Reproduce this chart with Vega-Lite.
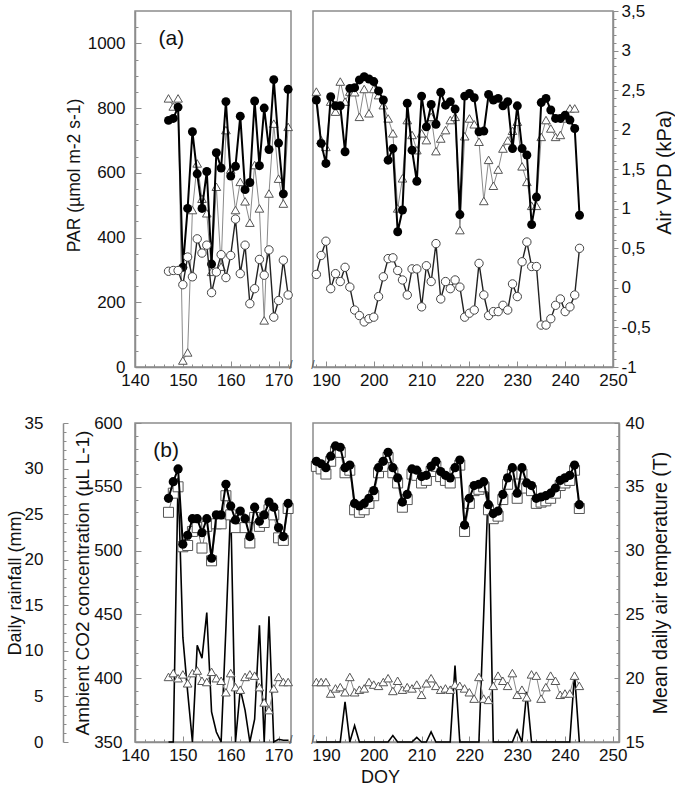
{
"$schema": "https://vega.github.io/schema/vega-lite/v6.json",
"padding": {"top": 1, "left": 5, "right": 0, "bottom": 5},
"config": {
  "font": "Liberation Sans",
  "view": {"stroke": "#8c8c8c", "strokeWidth": 1.5},
  "axis": {"grid": false, "domainColor": "#8c8c8c", "domainWidth": 1.5, "tickColor": "#8c8c8c", "tickWidth": 1, "labelFont": "Liberation Sans", "labelFontSize": 17, "labelColor": "#111", "titleFont": "Liberation Sans", "titleFontWeight": "normal", "titleColor": "#111", "labelFlush": false, "labelOverlap": false}
},
"datasets": {
  "a": [
    {"doy":147,"par":762,"par2":830,"vpd":0.21},
    {"doy":148,"par":768,"par2":805,"vpd":0.22},
    {"doy":149,"par":803,"par2":830,"vpd":0.22},
    {"doy":150,"par":308,"par2":20,"vpd":0.04},
    {"doy":151,"par":490,"par2":45,"vpd":0.39},
    {"doy":152,"par":727,"par2":485,"vpd":0.14},
    {"doy":153,"par":597,"par2":629,"vpd":0.62},
    {"doy":154,"par":490,"par2":520,"vpd":0.44},
    {"doy":155,"par":604,"par2":475,"vpd":0.54},
    {"doy":156,"par":318,"par2":294,"vpd":-0.06},
    {"doy":157,"par":662,"par2":557,"vpd":0.2},
    {"doy":158,"par":615,"par2":310,"vpd":0.42},
    {"doy":159,"par":820,"par2":732,"vpd":0.13},
    {"doy":160,"par":590,"par2":610,"vpd":0.41},
    {"doy":161,"par":620,"par2":485,"vpd":0.87},
    {"doy":162,"par":775,"par2":572,"vpd":0.18},
    {"doy":163,"par":548,"par2":512,"vpd":0.54},
    {"doy":164,"par":570,"par2":446,"vpd":-0.2},
    {"doy":165,"par":822,"par2":624,"vpd":-0.01},
    {"doy":166,"par":622,"par2":490,"vpd":0.36},
    {"doy":167,"par":800,"par2":144,"vpd":0.16},
    {"doy":168,"par":672,"par2":536,"vpd":0.48},
    {"doy":169,"par":888,"par2":752,"vpd":-0.37},
    {"doy":170,"par":692,"par2":582,"vpd":-0.16},
    {"doy":171,"par":535,"par2":505,"vpd":0.35},
    {"doy":172,"par":858,"par2":742,"vpd":-0.09},
    {"doy":188,"par":825,"par2":851,"vpd":0.17},
    {"doy":189,"par":691,"par2":701,"vpd":0.41},
    {"doy":190,"par":629,"par2":680,"vpd":0.59},
    {"doy":191,"par":835,"par2":820,"vpd":-0.01},
    {"doy":192,"par":807,"par2":789,"vpd":0.18},
    {"doy":193,"par":807,"par2":882,"vpd":0.08},
    {"doy":194,"par":665,"par2":820,"vpd":0.26},
    {"doy":195,"par":861,"par2":851,"vpd":0.01},
    {"doy":196,"par":863,"par2":849,"vpd":-0.28},
    {"doy":197,"par":887,"par2":773,"vpd":-0.35},
    {"doy":198,"par":897,"par2":859,"vpd":-0.43},
    {"doy":199,"par":890,"par2":784,"vpd":-0.39},
    {"doy":200,"par":882,"par2":859,"vpd":-0.37},
    {"doy":201,"par":853,"par2":840,"vpd":-0.11},
    {"doy":202,"par":825,"par2":809,"vpd":0.14},
    {"doy":203,"par":639,"par2":768,"vpd":0.37},
    {"doy":204,"par":675,"par2":722,"vpd":0.38},
    {"doy":205,"par":418,"par2":490,"vpd":0.22},
    {"doy":206,"par":485,"par2":583,"vpd":0.1},
    {"doy":207,"par":815,"par2":763,"vpd":-0.09},
    {"doy":208,"par":670,"par2":717,"vpd":0.24},
    {"doy":209,"par":574,"par2":670,"vpd":0.24},
    {"doy":210,"par":837,"par2":722,"vpd":-0.24},
    {"doy":211,"par":742,"par2":701,"vpd":0.28},
    {"doy":212,"par":811,"par2":773,"vpd":0.08},
    {"doy":213,"par":750,"par2":667,"vpd":0.56},
    {"doy":214,"par":849,"par2":706,"vpd":-0.14},
    {"doy":215,"par":809,"par2":732,"vpd":0.08},
    {"doy":216,"par":820,"par2":763,"vpd":-0.01},
    {"doy":217,"par":797,"par2":773,"vpd":0.1},
    {"doy":218,"par":471,"par2":423,"vpd":0.01},
    {"doy":219,"par":837,"par2":713,"vpd":-0.37},
    {"doy":220,"par":845,"par2":768,"vpd":-0.32},
    {"doy":221,"par":832,"par2":750,"vpd":-0.28},
    {"doy":222,"par":727,"par2":696,"vpd":0.31},
    {"doy":223,"par":729,"par2":513,"vpd":-0.09},
    {"doy":224,"par":842,"par2":640,"vpd":-0.35},
    {"doy":225,"par":825,"par2":560,"vpd":-0.3},
    {"doy":226,"par":830,"par2":610,"vpd":-0.3},
    {"doy":227,"par":807,"par2":675,"vpd":-0.22},
    {"doy":228,"par":820,"par2":700,"vpd":-0.28},
    {"doy":229,"par":675,"par2":730,"vpd":0.05},
    {"doy":230,"par":807,"par2":758,"vpd":-0.11},
    {"doy":231,"par":675,"par2":620,"vpd":0.33},
    {"doy":232,"par":655,"par2":572,"vpd":0.58},
    {"doy":233,"par":440,"par2":498,"vpd":0.27},
    {"doy":234,"par":525,"par2":498,"vpd":0.27},
    {"doy":235,"par":817,"par2":711,"vpd":-0.47},
    {"doy":236,"par":830,"par2":763,"vpd":-0.47},
    {"doy":237,"par":794,"par2":737,"vpd":-0.39},
    {"doy":238,"par":768,"par2":711,"vpd":-0.22},
    {"doy":239,"par":768,"par2":717,"vpd":-0.14},
    {"doy":240,"par":778,"par2":768,"vpd":-0.3},
    {"doy":241,"par":763,"par2":799,"vpd":-0.24},
    {"doy":242,"par":737,"par2":799,"vpd":-0.09},
    {"doy":243,"par":469,"vpd":0.5}
  ],
  "b": [
    {"doy":147,"t1":34.1,"t2":33.0,"co2":401,"rain":0},
    {"doy":148,"t1":35.4,"t2":34.5,"co2":404,"rain":0},
    {"doy":149,"t1":36.4,"t2":35.0,"co2":400,"rain":29},
    {"doy":150,"t1":30.5,"t2":30.3,"co2":403,"rain":11.5},
    {"doy":151,"t1":31.2,"t2":30.4,"co2":396,"rain":5.5},
    {"doy":152,"t1":32.5,"t2":31.5,"co2":404,"rain":0},
    {"doy":153,"t1":32.5,"t2":31.8,"co2":406,"rain":10.6},
    {"doy":154,"t1":31.4,"t2":30.2,"co2":398,"rain":9.2},
    {"doy":155,"t1":32.5,"t2":31.9,"co2":397,"rain":14.2},
    {"doy":156,"t1":29.4,"t2":29.2,"co2":405,"rain":3.3},
    {"doy":157,"t1":32.8,"t2":32.1,"co2":400,"rain":1.1},
    {"doy":158,"t1":32.8,"t2":32.1,"co2":398,"rain":0},
    {"doy":159,"t1":35.2,"t2":34.3,"co2":389,"rain":12.5},
    {"doy":160,"t1":33.5,"t2":32.8,"co2":404,"rain":26},
    {"doy":161,"t1":32.4,"t2":31.8,"co2":393,"rain":0},
    {"doy":162,"t1":33.1,"t2":32.5,"co2":391,"rain":5.8},
    {"doy":163,"t1":32.5,"t2":31.8,"co2":401,"rain":3.5},
    {"doy":164,"t1":31.1,"t2":30.6,"co2":403,"rain":0},
    {"doy":165,"t1":33.4,"t2":32.6,"co2":402,"rain":2.5},
    {"doy":166,"t1":32.3,"t2":31.9,"co2":393,"rain":12.8},
    {"doy":167,"t1":32.8,"t2":32.2,"co2":381,"rain":0},
    {"doy":168,"t1":33.8,"t2":33.2,"co2":375,"rain":13.8},
    {"doy":169,"t1":33.4,"t2":32.8,"co2":392,"rain":0},
    {"doy":170,"t1":31.8,"t2":31.0,"co2":401,"rain":0.3},
    {"doy":171,"t1":31.1,"t2":30.8,"co2":397,"rain":0.2},
    {"doy":172,"t1":33.7,"t2":33.3,"co2":397,"rain":0.2},
    {"doy":188,"t1":37.0,"t2":36.6,"co2":397,"rain":0},
    {"doy":189,"t1":36.8,"t2":36.4,"co2":397,"rain":0},
    {"doy":190,"t1":36.5,"t2":36.0,"co2":397,"rain":0},
    {"doy":191,"t1":37.4,"t2":37.0,"co2":388,"rain":0},
    {"doy":192,"t1":38.2,"t2":37.8,"co2":392,"rain":0},
    {"doy":193,"t1":38.1,"t2":37.7,"co2":393,"rain":0},
    {"doy":194,"t1":36.5,"t2":36.1,"co2":389,"rain":4.4},
    {"doy":195,"t1":36.7,"t2":36.3,"co2":401,"rain":0},
    {"doy":196,"t1":33.7,"t2":33.2,"co2":389,"rain":1.8},
    {"doy":197,"t1":33.5,"t2":33.0,"co2":391,"rain":0},
    {"doy":198,"t1":33.7,"t2":33.2,"co2":392,"rain":0},
    {"doy":199,"t1":34.1,"t2":33.7,"co2":397,"rain":0},
    {"doy":200,"t1":34.7,"t2":34.3,"co2":395,"rain":0},
    {"doy":201,"t1":36.5,"t2":36.1,"co2":394,"rain":0},
    {"doy":202,"t1":37.0,"t2":36.6,"co2":397,"rain":0},
    {"doy":203,"t1":37.7,"t2":37.3,"co2":400,"rain":0},
    {"doy":204,"t1":36.5,"t2":36.1,"co2":390,"rain":0.7},
    {"doy":205,"t1":35.7,"t2":35.3,"co2":398,"rain":0},
    {"doy":206,"t1":33.8,"t2":33.4,"co2":391,"rain":0},
    {"doy":207,"t1":34.4,"t2":34.0,"co2":393,"rain":0},
    {"doy":208,"t1":36.4,"t2":36.0,"co2":392,"rain":0},
    {"doy":209,"t1":36.3,"t2":35.9,"co2":395,"rain":0.5},
    {"doy":210,"t1":35.8,"t2":35.3,"co2":387,"rain":0},
    {"doy":211,"t1":35.9,"t2":35.5,"co2":396,"rain":0},
    {"doy":212,"t1":36.6,"t2":36.2,"co2":400,"rain":1.1},
    {"doy":213,"t1":37.0,"t2":36.6,"co2":394,"rain":0},
    {"doy":214,"t1":36.2,"t2":35.8,"co2":391,"rain":0},
    {"doy":215,"t1":35.9,"t2":35.5,"co2":392,"rain":0},
    {"doy":216,"t1":35.7,"t2":35.3,"co2":391,"rain":0},
    {"doy":217,"t1":36.5,"t2":36.1,"co2":395,"rain":8.4},
    {"doy":218,"t1":37.1,"t2":36.7,"co2":394,"rain":0},
    {"doy":219,"t1":32.0,"t2":31.5,"co2":392,"rain":0},
    {"doy":220,"t1":34.1,"t2":33.7,"co2":389,"rain":0},
    {"doy":221,"t1":35.1,"t2":34.7,"co2":384,"rain":0},
    {"doy":222,"t1":35.2,"t2":34.8,"co2":401,"rain":0},
    {"doy":223,"t1":35.4,"t2":35.0,"co2":384,"rain":14},
    {"doy":224,"t1":33.6,"t2":33.2,"co2":383,"rain":28.5},
    {"doy":225,"t1":32.9,"t2":32.5,"co2":394,"rain":0},
    {"doy":226,"t1":33.1,"t2":32.7,"co2":402,"rain":0},
    {"doy":227,"t1":34.4,"t2":34.0,"co2":398,"rain":0},
    {"doy":228,"t1":35.7,"t2":35.2,"co2":394,"rain":0},
    {"doy":229,"t1":36.5,"t2":36.0,"co2":404,"rain":0},
    {"doy":230,"t1":34.5,"t2":34.1,"co2":387,"rain":1.3},
    {"doy":231,"t1":36.5,"t2":36.0,"co2":391,"rain":0},
    {"doy":232,"t1":35.3,"t2":34.9,"co2":385,"rain":5.5},
    {"doy":233,"t1":35.1,"t2":34.7,"co2":403,"rain":0},
    {"doy":234,"t1":34.1,"t2":33.7,"co2":402,"rain":0},
    {"doy":235,"t1":34.2,"t2":33.8,"co2":384,"rain":0},
    {"doy":236,"t1":34.3,"t2":33.9,"co2":393,"rain":0},
    {"doy":237,"t1":34.5,"t2":34.1,"co2":402,"rain":0},
    {"doy":238,"t1":34.9,"t2":34.5,"co2":398,"rain":0},
    {"doy":239,"t1":35.5,"t2":35.1,"co2":387,"rain":0},
    {"doy":240,"t1":35.7,"t2":35.3,"co2":388,"rain":0},
    {"doy":241,"t1":35.9,"t2":35.5,"co2":388,"rain":0},
    {"doy":242,"t1":36.7,"t2":36.3,"co2":402,"rain":7.5},
    {"doy":243,"t1":33.6,"t2":33.3,"co2":394,"rain":0}
  ]
},
"columns": 2,
"align": "each",
"spacing": {"row": 21, "column": 12},
"concat": [
  {
    "width": 156, "height": 356,
    "data": {"name": "a"},
    "transform": [{"filter": "datum.doy < 180"}],
    "encoding": {"x": {"field": "doy", "type": "quantitative", "scale": {"domain": [140, 172.6], "nice": false, "zero": false},
      "axis": {"values": [140,142,144,146,148,150,152,154,156,158,160,162,164,166,168,170,172], "format": "d", "labelExpr": "datum.value % 10 === 0 ? datum.label : ''", "tickSize": {"condition": {"test": "datum.value % 10 === 0", "value": -6}, "value": -3}, "labelPadding": 11, "title": null}}},
    "layer": [
      {"layer": [
        {"mark": {"type": "line", "color": "#8a8a8a", "strokeWidth": 1, "point": {"shape": "triangle-up", "filled": true, "fill": "white", "stroke": "#555", "strokeWidth": 1, "size": 75}},
         "encoding": {"y": {"field": "par2", "type": "quantitative", "scale": {"domain": [0, 1100], "nice": false, "zero": false},
           "axis": {"orient": "left", "values": [0,50,100,150,200,250,300,350,400,450,500,550,600,650,700,750,800,850,900,950,1000,1050], "format": "d", "labelExpr": "datum.value % 200 === 0 ? datum.label : ''", "tickSize": {"condition": {"test": "datum.value % 200 === 0", "value": -6}, "value": -3}, "labelPadding": 16, "title": "PAR (µmol m-2  s-1)", "titleFontSize": 17.5, "titlePadding": 4, "titleY": 164}}}},
        {"mark": {"type": "line", "color": "black", "strokeWidth": 2, "point": {"shape": "circle", "filled": true, "color": "black", "size": 80}},
         "encoding": {"y": {"field": "par", "type": "quantitative", "scale": {"domain": [0, 1100], "nice": false, "zero": false},
           "axis": {"orient": "left", "values": [0,50,100,150,200,250,300,350,400,450,500,550,600,650,700,750,800,850,900,950,1000,1050], "format": "d", "labelExpr": "datum.value % 200 === 0 ? datum.label : ''", "tickSize": {"condition": {"test": "datum.value % 200 === 0", "value": -6}, "value": -3}, "labelPadding": 16, "title": "PAR (µmol m-2  s-1)", "titleFontSize": 17.5, "titlePadding": 4, "titleY": 164}}}},
        {"data": {"values": [{"doy": 147.6, "v": 1015, "t": "(a)"}]},
         "mark": {"type": "text", "font": "Liberation Sans", "color": "#111", "fontSize": 21},
         "encoding": {"y": {"field": "v", "type": "quantitative", "scale": {"domain": [0, 1100], "nice": false, "zero": false},
           "axis": {"orient": "left", "values": [0,50,100,150,200,250,300,350,400,450,500,550,600,650,700,750,800,850,900,950,1000,1050], "format": "d", "labelExpr": "datum.value % 200 === 0 ? datum.label : ''", "tickSize": {"condition": {"test": "datum.value % 200 === 0", "value": -6}, "value": -3}, "labelPadding": 16, "title": "PAR (µmol m-2  s-1)", "titleFontSize": 17.5, "titlePadding": 4, "titleY": 164}},
           "text": {"field": "t"}}},
        {"data": {"values": [{"doy": 172.6, "v": 0, "t": "/"}]},
         "mark": {"type": "text", "font": "Liberation Sans", "color": "#555", "fontSize": 12, "dy": -2},
         "encoding": {"y": {"field": "v", "type": "quantitative", "scale": {"domain": [0, 1100], "nice": false, "zero": false},
           "axis": {"orient": "left", "values": [0,50,100,150,200,250,300,350,400,450,500,550,600,650,700,750,800,850,900,950,1000,1050], "format": "d", "labelExpr": "datum.value % 200 === 0 ? datum.label : ''", "tickSize": {"condition": {"test": "datum.value % 200 === 0", "value": -6}, "value": -3}, "labelPadding": 16, "title": "PAR (µmol m-2  s-1)", "titleFontSize": 17.5, "titlePadding": 4, "titleY": 164}},
           "text": {"field": "t"}}}
      ]},
      {"mark": {"type": "line", "color": "#222", "strokeWidth": 1.4, "point": {"shape": "circle", "filled": true, "fill": "white", "stroke": "#444", "strokeWidth": 1, "size": 70}},
       "encoding": {"y": {"field": "vpd", "type": "quantitative", "scale": {"domain": [-1, 3.5], "nice": false, "zero": false}, "axis": null}}}
    ],
    "resolve": {"scale": {"y": "independent"}}
  },
  {
    "width": 300, "height": 356,
    "data": {"name": "a"},
    "transform": [{"filter": "datum.doy > 180"}],
    "encoding": {"x": {"field": "doy", "type": "quantitative", "scale": {"domain": [187.3, 250], "nice": false, "zero": false},
      "axis": {"values": [188,190,192,194,196,198,200,202,204,206,208,210,212,214,216,218,220,222,224,226,228,230,232,234,236,238,240,242,244,246,248,250], "format": "d", "labelExpr": "datum.value % 10 === 0 ? datum.label : ''", "tickSize": {"condition": {"test": "datum.value % 10 === 0", "value": -6}, "value": -3}, "labelPadding": 11, "title": null}}},
    "layer": [
      {"layer": [
        {"mark": {"type": "line", "color": "#8a8a8a", "strokeWidth": 1, "point": {"shape": "triangle-up", "filled": true, "fill": "white", "stroke": "#555", "strokeWidth": 1, "size": 75}},
         "encoding": {"y": {"field": "par2", "type": "quantitative", "scale": {"domain": [0, 1100], "nice": false, "zero": false}, "axis": null}}},
        {"mark": {"type": "line", "color": "black", "strokeWidth": 2, "point": {"shape": "circle", "filled": true, "color": "black", "size": 80}},
         "encoding": {"y": {"field": "par", "type": "quantitative", "scale": {"domain": [0, 1100], "nice": false, "zero": false}, "axis": null}}},
        {"data": {"values": [{"doy": 187.3, "v": 0, "t": "/"}]},
         "mark": {"type": "text", "font": "Liberation Sans", "color": "#555", "fontSize": 12, "dy": -2},
         "encoding": {"y": {"field": "v", "type": "quantitative", "scale": {"domain": [0, 1100], "nice": false, "zero": false}, "axis": null}, "text": {"field": "t"}}}
      ]},
      {"mark": {"type": "line", "color": "#222", "strokeWidth": 1.4, "point": {"shape": "circle", "filled": true, "fill": "white", "stroke": "#444", "strokeWidth": 1, "size": 70}},
       "encoding": {"y": {"field": "vpd", "type": "quantitative", "scale": {"domain": [-1, 3.5], "nice": false, "zero": false},
         "axis": {"orient": "right", "values": [-1,-0.9,-0.8,-0.7,-0.6,-0.5,-0.4,-0.3,-0.2,-0.1,0,0.1,0.2,0.3,0.4,0.5,0.6,0.7,0.8,0.9,1,1.1,1.2,1.3,1.4,1.5,1.6,1.7,1.8,1.9,2,2.1,2.2,2.3,2.4,2.5,2.6,2.7,2.8,2.9,3,3.1,3.2,3.3,3.4,3.5], "labelExpr": "round(datum.value*10) % 5 === 0 ? replace(toString(datum.value), '.', ',') : ''", "tickSize": {"condition": {"test": "round(datum.value*10) % 5 === 0", "value": 5}, "value": 3}, "labelPadding": 3, "title": "Air VPD (kPa)", "titleAngle": 270, "titleBaseline": "top", "titleFontSize": 20, "titlePadding": 4, "titleY": 161}}}}
    ],
    "resolve": {"scale": {"y": "independent"}}
  },
  {
    "width": 156, "height": 319,
    "data": {"name": "b"},
    "transform": [{"filter": "datum.doy < 180"}],
    "encoding": {"x": {"field": "doy", "type": "quantitative", "scale": {"domain": [140, 172.6], "nice": false, "zero": false},
      "axis": {"values": [140,142,144,146,148,150,152,154,156,158,160,162,164,166,168,170,172], "format": "d", "labelExpr": "datum.value % 10 === 0 ? datum.label : ''", "tickSize": {"condition": {"test": "datum.value % 10 === 0", "value": -6}, "value": -3}, "labelPadding": 11, "title": null}}},
    "layer": [
      {"mark": {"type": "line", "color": "black", "strokeWidth": 1.6},
       "encoding": {"y": {"field": "rain", "type": "quantitative", "scale": {"domain": [0, 35], "nice": false, "zero": false},
         "axis": {"orient": "left", "offset": 72, "values": [0,1,2,3,4,5,6,7,8,9,10,11,12,13,14,15,16,17,18,19,20,21,22,23,24,25,26,27,28,29,30,31,32,33,34,35], "format": "d", "labelExpr": "datum.value % 5 === 0 ? datum.label : ''", "tickSize": {"condition": {"test": "datum.value % 5 === 0", "value": -5}, "value": -3}, "labelPadding": 25, "title": "Daily rainfall (mm)", "titleFontSize": 18, "titlePadding": 0}}}},
      {"layer": [
        {"mark": {"type": "line", "color": "#8a8a8a", "strokeWidth": 1, "point": {"shape": "triangle-up", "filled": true, "fill": "white", "stroke": "#555", "strokeWidth": 1, "size": 75}},
         "encoding": {"y": {"field": "co2", "type": "quantitative", "scale": {"domain": [350, 600], "nice": false, "zero": false},
           "axis": {"orient": "left", "values": [350,360,370,380,390,400,410,420,430,440,450,460,470,480,490,500,510,520,530,540,550,560,570,580,590,600], "format": "d", "labelExpr": "datum.value % 50 === 0 ? datum.label : ''", "tickSize": {"condition": {"test": "datum.value % 50 === 0", "value": -6}, "value": -3}, "labelPadding": 19, "title": "Ambient CO2 concentration (µL L-1)", "titleFontSize": 19, "titlePadding": 1}}}},
        {"data": {"values": [{"doy": 146.5, "v": 578, "t": "(b)"}]},
         "mark": {"type": "text", "font": "Liberation Sans", "color": "#111", "fontSize": 21},
         "encoding": {"y": {"field": "v", "type": "quantitative", "scale": {"domain": [350, 600], "nice": false, "zero": false},
           "axis": {"orient": "left", "values": [350,360,370,380,390,400,410,420,430,440,450,460,470,480,490,500,510,520,530,540,550,560,570,580,590,600], "format": "d", "labelExpr": "datum.value % 50 === 0 ? datum.label : ''", "tickSize": {"condition": {"test": "datum.value % 50 === 0", "value": -6}, "value": -3}, "labelPadding": 19, "title": "Ambient CO2 concentration (µL L-1)", "titleFontSize": 19, "titlePadding": 1}},
           "text": {"field": "t"}}},
        {"data": {"values": [{"doy": 172.6, "v": 350, "t": "/"}]},
         "mark": {"type": "text", "font": "Liberation Sans", "color": "#555", "fontSize": 12, "dy": -2},
         "encoding": {"y": {"field": "v", "type": "quantitative", "scale": {"domain": [350, 600], "nice": false, "zero": false},
           "axis": {"orient": "left", "values": [350,360,370,380,390,400,410,420,430,440,450,460,470,480,490,500,510,520,530,540,550,560,570,580,590,600], "format": "d", "labelExpr": "datum.value % 50 === 0 ? datum.label : ''", "tickSize": {"condition": {"test": "datum.value % 50 === 0", "value": -6}, "value": -3}, "labelPadding": 19, "title": "Ambient CO2 concentration (µL L-1)", "titleFontSize": 19, "titlePadding": 1}},
           "text": {"field": "t"}}}
      ]},
      {"layer": [
        {"mark": {"type": "line", "color": "#777", "strokeWidth": 1, "point": {"shape": "square", "filled": true, "fill": "white", "stroke": "#555", "strokeWidth": 1, "size": 100}},
         "encoding": {"y": {"field": "t2", "type": "quantitative", "scale": {"domain": [15, 40], "nice": false, "zero": false}, "axis": null}}},
        {"mark": {"type": "line", "color": "black", "strokeWidth": 2, "point": {"shape": "circle", "filled": true, "color": "black", "size": 85}},
         "encoding": {"y": {"field": "t1", "type": "quantitative", "scale": {"domain": [15, 40], "nice": false, "zero": false}, "axis": null}}}
      ]}
    ],
    "resolve": {"scale": {"y": "independent"}}
  },
  {
    "width": 306, "height": 319,
    "data": {"name": "b"},
    "transform": [{"filter": "datum.doy > 180"}],
    "encoding": {"x": {"field": "doy", "type": "quantitative", "scale": {"domain": [187.3, 251.3], "nice": false, "zero": false},
      "axis": {"values": [188,190,192,194,196,198,200,202,204,206,208,210,212,214,216,218,220,222,224,226,228,230,232,234,236,238,240,242,244,246,248,250], "format": "d", "labelExpr": "datum.value % 10 === 0 ? datum.label : ''", "tickSize": {"condition": {"test": "datum.value % 10 === 0", "value": -6}, "value": -3}, "labelPadding": 11, "title": "DOY", "titleX": 67, "titleFontSize": 18, "titlePadding": 2}}},
    "layer": [
      {"mark": {"type": "line", "color": "black", "strokeWidth": 1.6},
       "encoding": {"y": {"field": "rain", "type": "quantitative", "scale": {"domain": [0, 35], "nice": false, "zero": false}, "axis": null}}},
      {"layer": [
        {"mark": {"type": "line", "color": "#8a8a8a", "strokeWidth": 1, "point": {"shape": "triangle-up", "filled": true, "fill": "white", "stroke": "#555", "strokeWidth": 1, "size": 75}},
         "encoding": {"y": {"field": "co2", "type": "quantitative", "scale": {"domain": [350, 600], "nice": false, "zero": false}, "axis": null}}},
        {"data": {"values": [{"doy": 187.3, "v": 350, "t": "/"}]},
         "mark": {"type": "text", "font": "Liberation Sans", "color": "#555", "fontSize": 12, "dy": -2},
         "encoding": {"y": {"field": "v", "type": "quantitative", "scale": {"domain": [350, 600], "nice": false, "zero": false}, "axis": null}, "text": {"field": "t"}}}
      ]},
      {"layer": [
        {"mark": {"type": "line", "color": "#777", "strokeWidth": 1, "point": {"shape": "square", "filled": true, "fill": "white", "stroke": "#555", "strokeWidth": 1, "size": 100}},
         "encoding": {"y": {"field": "t2", "type": "quantitative", "scale": {"domain": [15, 40], "nice": false, "zero": false},
           "axis": {"orient": "right", "values": [15,16,17,18,19,20,21,22,23,24,25,26,27,28,29,30,31,32,33,34,35,36,37,38,39,40], "format": "d", "labelExpr": "datum.value % 5 === 0 ? datum.label : ''", "tickSize": {"condition": {"test": "datum.value % 5 === 0", "value": -5}, "value": -3}, "labelPadding": 11, "title": "Mean daily air temperature (T)", "titleAngle": 270, "titleBaseline": "top", "titleFontSize": 19.5, "titlePadding": 8}}}},
        {"mark": {"type": "line", "color": "black", "strokeWidth": 2, "point": {"shape": "circle", "filled": true, "color": "black", "size": 85}},
         "encoding": {"y": {"field": "t1", "type": "quantitative", "scale": {"domain": [15, 40], "nice": false, "zero": false},
           "axis": {"orient": "right", "values": [15,16,17,18,19,20,21,22,23,24,25,26,27,28,29,30,31,32,33,34,35,36,37,38,39,40], "format": "d", "labelExpr": "datum.value % 5 === 0 ? datum.label : ''", "tickSize": {"condition": {"test": "datum.value % 5 === 0", "value": -5}, "value": -3}, "labelPadding": 11, "title": "Mean daily air temperature (T)", "titleAngle": 270, "titleBaseline": "top", "titleFontSize": 19.5, "titlePadding": 8}}}}
      ]}
    ],
    "resolve": {"scale": {"y": "independent"}}
  }
]
}
